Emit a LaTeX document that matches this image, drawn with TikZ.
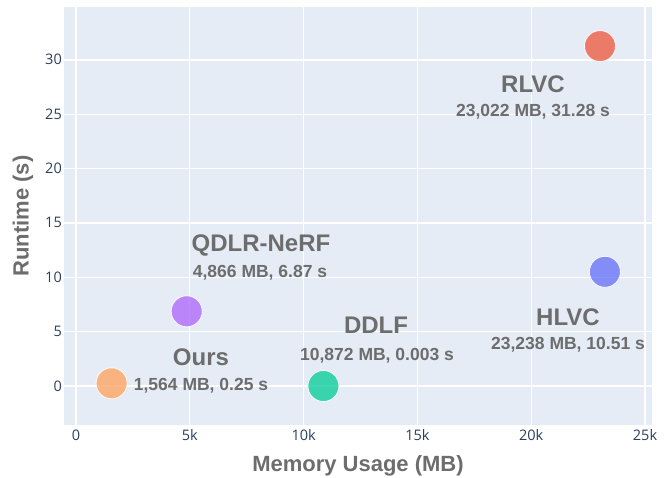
\documentclass[tikz,border=0pt]{standalone}
\usepackage{fontspec}
\setmainfont{Liberation Sans}
\newfontfamily\tickfont{Open Sans}
\definecolor{plotbg}{HTML}{E5ECF6}
\definecolor{tickcol}{HTML}{2A3F5F}
\definecolor{labelgray}{HTML}{6D6D6D}
\definecolor{pOrange}{HTML}{FFA15A}
\definecolor{pPurple}{HTML}{AB63FA}
\definecolor{pGreen}{HTML}{00CC96}
\definecolor{pBlue}{HTML}{636EFA}
\definecolor{pRed}{HTML}{EF553B}
\tikzset{
  grid line/.style={white, line width=1.2pt},
  zero line/.style={white, line width=2.4pt},
  marker/.style={circle, minimum size=31pt, inner sep=0pt, draw=white, line width=0.8pt, fill opacity=0.75, draw opacity=0.9},
  name label/.style={anchor=base, inner sep=0pt, text=labelgray, font=\fontsize{24}{24}\selectfont\bfseries},
  value label/.style={anchor=base, inner sep=0pt, text=labelgray, font=\fontsize{17.5}{17.5}\selectfont\bfseries},
  xtick/.style={anchor=base, inner sep=0pt, text=tickcol, font=\tickfont\fontsize{14.5}{14.5}\selectfont},
  ytick/.style={anchor=base east, inner sep=0pt, text=tickcol, font=\tickfont\fontsize{14.5}{14.5}\selectfont},
  axis title/.style={inner sep=0pt, text=labelgray, font=\fontsize{22}{22}\selectfont\bfseries},
}
\begin{document}
\begin{tikzpicture}[x=1pt, y=-1pt]
  \useasboundingbox (0,0) rectangle (669,478);
  % plot area
  \fill[plotbg] (64,7) rectangle (652,425);
  % horizontal grid lines (runtime: 5 s steps)
  \foreach \v in {5,10,...,30} {
    \draw[grid line] (64,{386-10.867*\v}) -- (652,{386-10.867*\v});
    \node[ytick] at (62,{386-10.867*\v+5}) {\v};
  }
  \draw[zero line] (64,386) -- (652,386);
  \node[ytick] at (62,391) {0};
  % vertical grid lines (memory: 5k steps)
  \foreach \v in {5,10,...,25} {
    \draw[grid line] ({76+22.76*\v},7) -- ({76+22.76*\v},425);
    \node[xtick] at ({76+22.76*\v},440) {\v k};
  }
  \draw[zero line] (76,7) -- (76,425);
  \node[xtick] at (76,440) {0};
  % axis titles
  \node[axis title] (xtitle) at (358,466) {Memory Usage (MB)};
  \node[axis title, rotate=90] (ytitle) at (23,216) {Runtime (s)};
  % data points
  \node[marker, fill=pOrange] (ours) at (111.6,383.3) {};
  \node[marker, fill=pPurple] (qdlr) at (186.7,311.3) {};
  \node[marker, fill=pGreen] (ddlf) at (323.4,386) {};
  \node[marker, fill=pBlue] (hlvc) at (604.9,271.8) {};
  \node[marker, fill=pRed] (rlvc) at (600,46.1) {};
  % point labels
  \node[name label] (oursname) at (201,365) {Ours};
  \node[value label] (oursval) at (201,390) {1,564 MB, 0.25 s};
  \node[name label] (qdlrname) at (261,252) {QDLR-NeRF};
  \node[value label] (qdlrval) at (260,277) {4,866 MB, 6.87 s};
  \node[name label] (ddlfname) at (376,333) {DDLF};
  \node[value label] (ddlfval) at (377,360) {10,872 MB, 0.003 s};
  \node[name label] (hlvcname) at (568,325) {HLVC};
  \node[value label] (hlvcval) at (568,349) {23,238 MB, 10.51 s};
  \node[name label] (rlvcname) at (533,93) {RLVC};
  \node[value label] (rlvcval) at (533,117) {23,022 MB, 31.28 s};
\end{tikzpicture}
\end{document}
